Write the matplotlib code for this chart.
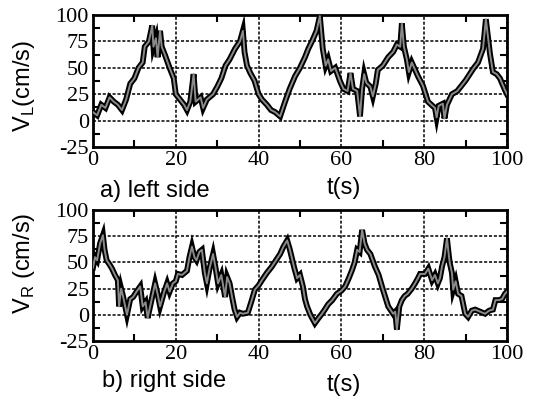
import matplotlib
matplotlib.use('Agg')
import matplotlib.pyplot as plt
from matplotlib.ticker import MultipleLocator

plt.rcParams['axes.unicode_minus'] = False

# left side speed V_L (cm/s)
t_left = [0, 1, 2, 3, 4, 5, 6, 7, 8, 9, 10, 11, 12, 12.5, 13.5, 14.3, 14.6, 15.2, 15.6, 16.2,
          16.6, 17.4, 18.5, 19.5, 20, 21, 22, 22.7, 23.5, 24.3, 24.8, 26, 26.6, 27.5, 29, 30,
          31, 32, 33, 34.3, 35.5, 36.2, 36.6, 37.2, 38, 39, 40, 40.8, 42, 43, 44, 45.2,
          46.4, 47.5, 48.8, 50, 51.2, 52, 53, 54, 54.8, 55.5, 56.2, 56.8, 57.5, 58.5, 59.7,
          60.5, 61.5, 62.2, 62.8, 63.8, 64.5, 65, 65.5, 66, 67, 67.6, 68.3, 68.8, 70, 71.3,
          72.5, 73.4, 74.2, 74.6, 75.1, 75.8, 76.3, 77, 78.5, 79.7, 80.9, 82, 82.6, 83,
          83.5, 84.5, 84.9, 85.5, 86.7, 88, 89, 90, 91, 92, 93, 94.2, 94.9, 95.9, 96.6,
          97.5, 98.3, 99.5, 100]
v_left = [8, 5, 15, 12, 22, 18, 15, 10, 20, 35, 40, 50, 55, 70, 75, 90, 70, 78, 60, 85,
          70, 62, 50, 40, 25, 20, 15, 10, 18, 44, 18, 22, 12, 20, 25, 32,
          40, 52, 58, 68, 75, 85, 65, 52, 45, 38, 25, 20, 15, 10, 8, 4,
          18, 30, 42, 50, 60, 68, 76, 85, 99, 68, 52, 58, 47, 50, 37,
          30, 28, 45, 30, 28, 4, 30, 44, 36, 32, 23, 35, 48, 52, 60,
          65, 72, 70, 92, 70, 58, 46, 55, 42, 33, 18, 14, 12, 3,
          14, 16, 2, 15, 25, 28, 33, 38, 44, 50, 55, 68, 96, 63, 46,
          44, 40, 29, 25]

# right side speed V_R (cm/s)
t_right = [0, 0.5, 1, 1.7, 2.4, 2.8, 3.3, 4, 4.6, 5.3, 6, 6.3, 6.8, 7.3, 8.2, 9, 9.7, 10.5,
           11.4, 12, 12.7, 13.2, 14.3, 15, 15.6, 16.2, 17.2, 17.9, 18.5, 19.3, 20, 20.5,
           21.5, 22.7, 23.3, 23.9, 24.5, 25, 25.7, 26.3, 27, 27.5, 28.2, 29, 29.6, 30.2,
           31, 31.9, 32.4, 33, 33.6, 34.2, 34.8, 35.5, 36.2, 37.4, 38.2, 39.1, 40, 40.8,
           42, 43.2, 44.2, 45.2, 46, 46.9, 47.5, 48, 48.6, 49.3, 50, 50.7, 51.2, 51.7,
           52.5, 53.6, 54.5, 55.3, 56, 56.8, 57.8, 58.9, 60, 60.9, 61.8, 62.6, 63.2, 63.8,
           64.4, 65, 65.6, 66.2, 67, 68.1, 69, 69.8, 70.5, 71.3, 72.5, 73, 73.4, 74, 74.6,
           75.3, 76, 77, 77.8, 78.5, 79, 80.2, 81, 81.9, 82.6, 83.3, 83.8, 84.3, 84.9,
           85.5, 86, 86.2, 86.7, 87, 87.6, 88.2, 89, 89.9, 90.6, 91.5, 92.3, 93.5, 94.7,
           95.7, 96.6, 97.2, 98, 98.8, 99.5, 100]
v_right = [45, 55, 52, 68, 76, 62, 52, 48, 44, 38, 33, 8, 25, 17, 0, 15, 17, 22,
           27, 8, 12, -3, 17, 30, 20, 8, 22, 30, 22, 30, 32, 39,
           38, 42, 55, 65, 55, 52, 60, 62, 40, 30, 45, 58, 45, 30,
           38, 17, 36, 30, 17, 5, -2, 2, 1, 2, 12, 24, 28, 33,
           40, 46, 52, 58, 65, 71, 63, 55, 45, 35, 38, 27, 15, 8,
           0, -8, -3, 1, 5, 10, 14, 20, 23, 27, 35, 43, 50, 62,
           60, 81, 68, 62, 58, 46, 38, 27, 18, 8, 1, 3, -14, 8, 14,
           18, 20, 25, 30, 35, 39, 39, 44, 33, 38, 30, 35, 46, 55,
           73, 55, 49, 40, 24, 32, 20, 18, 1, -2, 4, 5, 3, 1,
           4, 5, 14, 14, 15, 20, 22]

xticks = [0, 20, 40, 60, 80, 100]
yticks = [-25, 0, 25, 50, 75, 100]

W, H = 537, 401
fig = plt.figure(figsize=(W / 100, H / 100), dpi=100)
fig.patch.set_facecolor('white')

serif = 'Liberation Serif'
sans = 'Liberation Sans'


def setup(ax, t, v):
    ax.plot(t, v, color='black', lw=4.2, solid_joinstyle='miter', zorder=3)
    ax.plot(t, v, color='#8a8a8a', lw=1.4, zorder=4)
    ax.set_xlim(0, 100)
    ax.set_ylim(-25, 100)
    ax.set_xticks(xticks)
    ax.set_yticks(yticks)
    ax.xaxis.set_minor_locator(MultipleLocator(10))
    ax.yaxis.set_minor_locator(MultipleLocator(12.5))
    ax.tick_params(which='major', length=0, pad=3)
    ax.tick_params(which='minor', direction='in', length=5, width=1.5,
                   top=True, right=True)
    for lab in ax.get_xticklabels() + ax.get_yticklabels():
        lab.set_fontfamily(serif)
        lab.set_fontsize(16)
    ax.xaxis.grid(True, which='major', color='black', lw=1.1, ls=(0, (2, 1.2)))
    # horizontal grid lines only at 0..75
    for y in [0, 25, 50, 75]:
        ax.axhline(y, color='black', lw=1.1, ls=(0, (2, 1.2)), zorder=1)
    for s in ax.spines.values():
        s.set_linewidth(2)


ax1 = fig.add_axes([93 / W, 1 - 147 / H, 414 / W, 132 / H])
setup(ax1, t_left, v_left)
ax2 = fig.add_axes([93 / W, 1 - 341 / H, 414 / W, 131 / H])
setup(ax2, t_right, v_right)

fig.text(24 / W, 1 - 86 / H, r'V$_\mathregular{L}$(cm/s)', rotation=90, ha='center',
         va='center', family=sans, fontsize=17)
fig.text(24 / W, 1 - 263 / H, r'V$_\mathregular{R}$ (cm/s)', rotation=90, ha='center',
         va='center', family=sans, fontsize=17)
fig.text(155 / W, 1 - 191 / H, 'a) left side', ha='center', va='center',
         family=sans, fontsize=17)
fig.text(344 / W, 1 - 188 / H, 't(s)', ha='center', va='center', family=sans, fontsize=17)
fig.text(164 / W, 1 - 381 / H, 'b) right side', ha='center', va='center',
         family=sans, fontsize=17)
fig.text(344 / W, 1 - 385 / H, 't(s)', ha='center', va='center', family=sans, fontsize=17)

plt.savefig('out.png', dpi=100)
